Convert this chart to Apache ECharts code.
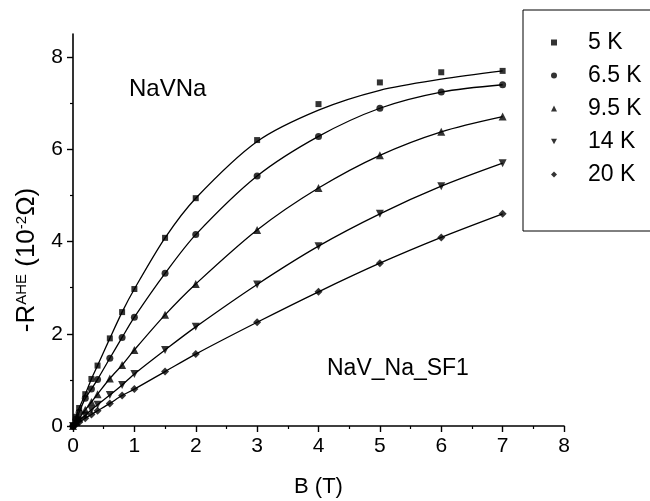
<!DOCTYPE html>
<html>
<head>
<meta charset="utf-8">
<script src="https://cdn.jsdelivr.net/npm/echarts@6/dist/echarts.min.js"></script>
<style>
  html, body { margin: 0; padding: 0; background: #fff; }
  #chart { width: 650px; height: 501px; }
</style>
</head>
<body>
<div id="chart"></div>
<script>
// field values (T), shared by all temperatures
const fieldB = [0, 0.05, 0.1, 0.2, 0.3, 0.4, 0.6, 0.8, 1, 1.5, 2, 3, 4, 5, 6, 7]

// -R_AHE in 10^-2 Ohm
const r5K   = [0, 0.2, 0.39, 0.69, 1.02, 1.31, 1.90, 2.47, 2.97, 4.08, 4.94, 6.20, 6.98, 7.45, 7.67, 7.70]
const r6_5K = [0, 0.15, 0.30, 0.60, 0.80, 1.01, 1.47, 1.92, 2.36, 3.31, 4.15, 5.42, 6.28, 6.89, 7.24, 7.40]
const r9_5K = [0, 0.09, 0.17, 0.35, 0.52, 0.69, 1.03, 1.32, 1.65, 2.41, 3.08, 4.25, 5.16, 5.87, 6.38, 6.71]
const r14K  = [0, 0.06, 0.12, 0.23, 0.35, 0.46, 0.67, 0.89, 1.13, 1.65, 2.15, 3.07, 3.90, 4.60, 5.20, 5.70]
const r20K  = [0, 0.04, 0.08, 0.17, 0.25, 0.33, 0.49, 0.66, 0.80, 1.18, 1.56, 2.25, 2.91, 3.53, 4.09, 4.60]

// the 5 K fit curve runs a bit under the high-field points
const fit5K = [0, 0.2, 0.39, 0.69, 1.02, 1.31, 1.90, 2.47, 2.97, 4.08, 4.94, 6.17, 6.85, 7.28, 7.52, 7.70]

const temps = ['5 K', '6.5 K', '9.5 K', '14 K', '20 K']
const xTicks = [0, 1, 2, 3, 4, 5, 6, 7, 8]
const yTicks = [0, 2, 4, 6, 8]
const yMinor = [1, 3, 5, 7]

const FONT = 'Liberation Sans, Arial, Helvetica, sans-serif'
const downTri = 'path://M0,0L10,0L5,9Z'
const symbols = ['rect', 'circle', 'triangle', downTri, 'diamond']
const sizes = [6, 7, 8, 8, 8]

const points = [r5K, r6_5K, r9_5K, r14K, r20K]
const fits = [fit5K, r6_5K, r9_5K, r14K, r20K]

const pairs = (ys) => fieldB.map((b, i) => [b, ys[i]])

const series = []
temps.forEach((t, i) => {
  series.push({
    name: t + ' fit',
    type: 'line',
    data: pairs(fits[i]),
    smooth: 0.3,
    showSymbol: false,
    lineStyle: { color: '#000', width: 1.3 },
    z: 2,
  })
  series.push({
    name: t,
    type: 'scatter',
    data: pairs(points[i]),
    symbol: symbols[i],
    symbolSize: sizes[i],
    itemStyle: { color: '#000' },
    z: 3,
  })
})

const chart = echarts.init(document.getElementById('chart'))
chart.setOption({
  animation: false,
  textStyle: { fontFamily: FONT, color: '#000' },
  grid: { left: 73, right: 86, top: 34, bottom: 75, outerBoundsMode: 'none' },
  xAxis: {
    type: 'value',
    min: xTicks[0],
    max: xTicks[xTicks.length - 1],
    interval: 1,
    name: 'B (T)',
    nameLocation: 'middle',
    nameGap: 50,
    nameTextStyle: { fontSize: 22, color: '#000', fontFamily: FONT },
    axisLine: { lineStyle: { color: '#000', width: 1.6 } },
    axisTick: { length: 6, lineStyle: { color: '#000', width: 1.4 } },
    minorTick: { show: true, splitNumber: 2, length: 3, lineStyle: { color: '#000', width: 1.2 } },
    axisLabel: { fontSize: 21, color: '#000', margin: 10, fontFamily: FONT },
    splitLine: { show: false },
  },
  yAxis: [{
    type: 'value',
    position: 'left',
    min: 0,
    max: 8.5,
    axisLine: { show: true, lineStyle: { color: '#000', width: 1.6 } },
    axisTick: { customValues: yTicks, length: 6, lineStyle: { color: '#000', width: 1.4 } },
    axisLabel: { customValues: yTicks, fontSize: 21, color: '#000', margin: 10, fontFamily: FONT },
    splitLine: { show: false },
  }, {
    // odd-value minor ticks only
    type: 'value',
    position: 'left',
    min: 0,
    max: 8.5,
    axisLine: { show: false },
    axisTick: { show: true, customValues: yMinor, length: 3, lineStyle: { color: '#000', width: 1.2 } },
    axisLabel: { show: false },
    splitLine: { show: false },
  }],
  legend: {
    orient: 'vertical',
    left: 523,
    top: 10,
    padding: [21, 20, 45, 28],
    borderColor: '#000',
    borderWidth: 1,
    itemWidth: 6,
    itemHeight: 6,
    itemGap: 10,
    selectedMode: false,
    textStyle: { fontSize: 23, lineHeight: 23, color: '#000', fontFamily: FONT, padding: [0, 0, 0, 26] },
    data: temps.map((t, i) => ({ name: t, icon: symbols[i] })),
  },
  graphic: [{
    type: 'text',
    x: 27,
    y: 260,
    rotation: Math.PI / 2,
    style: {
      text: '{a|-R}{b|AHE}{a| (10}{b|-2}{a|Ω)}',
      align: 'center',
      verticalAlign: 'middle',
      rich: {
        a: { fontSize: 26, fontFamily: FONT, fill: '#000', verticalAlign: 'bottom' },
        b: { fontSize: 15, fontFamily: FONT, fill: '#000', verticalAlign: 'top' },
      },
    },
  }, {
    type: 'text',
    x: 129,
    y: 89,
    style: { text: 'NaVNa', fontSize: 24, fontFamily: FONT, fill: '#000', verticalAlign: 'middle' },
  }, {
    type: 'text',
    x: 327,
    y: 369,
    style: { text: 'NaV_Na_SF1', fontSize: 23, fontFamily: FONT, fill: '#000', verticalAlign: 'middle' },
  }],
  series: series,
})
</script>
</body>
</html>
